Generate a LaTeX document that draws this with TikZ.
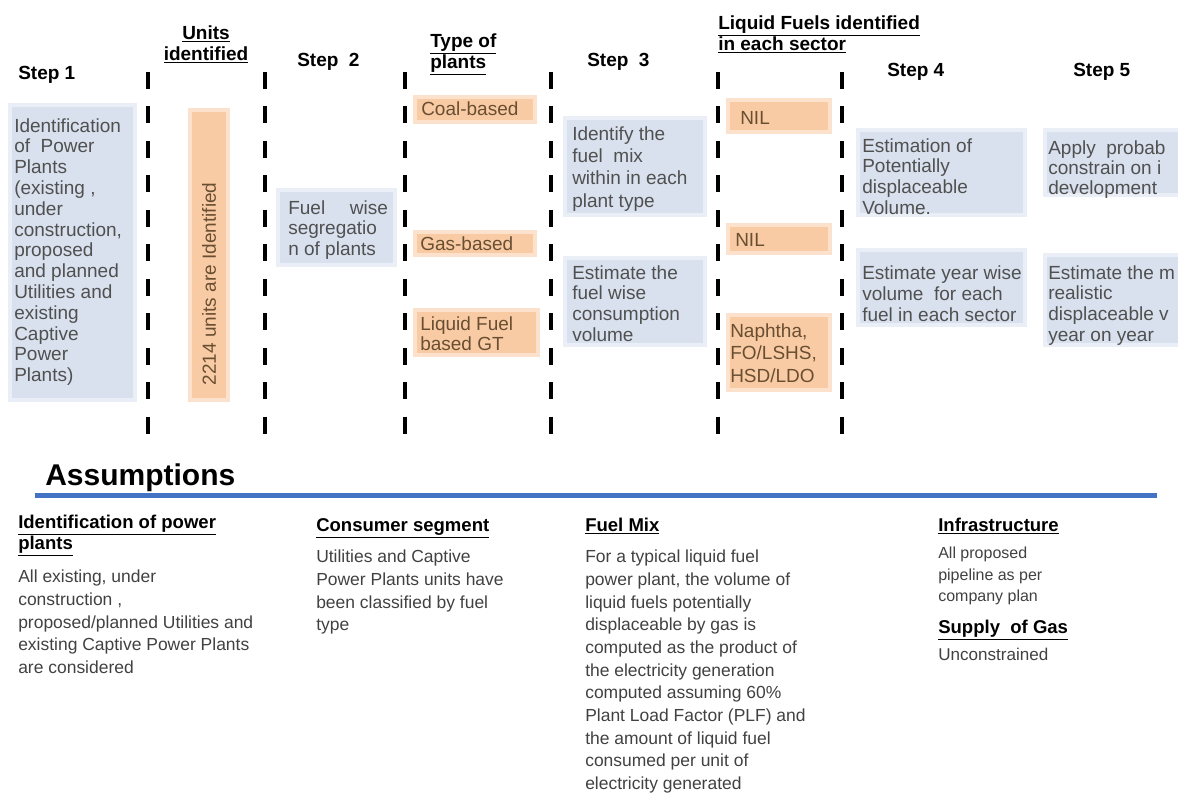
\documentclass[tikz,border=0pt]{standalone}
\usepackage{fontspec}
\setmainfont{Liberation Sans}
\usepackage{xcolor}
\usepackage{tikz}
\usetikzlibrary{positioning, fit}

\definecolor{boxblue}{RGB}{217,225,238}
\definecolor{boxorange}{RGB}{249,203,164}
\definecolor{rulebl}{RGB}{68,114,196}
\definecolor{bluetext}{RGB}{80,80,80}
\definecolor{orangetext}{RGB}{105,78,50}
\definecolor{bodytext}{RGB}{65,65,65}

\newcommand{\boxfont}{\fontsize{14.25}{15.5}\selectfont}
\newcommand{\headfont}{\fontsize{14.25}{16}\selectfont\bfseries}
\newcommand{\asmheadfont}{\fontsize{13.9}{15.75}\selectfont\bfseries}
\newcommand{\asmfont}{\fontsize{13.1}{17}\selectfont}

\tikzstyle{bluebox} = [rectangle, fill=boxblue, draw=boxblue!55, line width=2.5pt, inner sep=0pt]
\tikzstyle{orangebox} = [rectangle, fill=boxorange, draw=boxorange!55, line width=2.5pt, inner sep=0pt]
\tikzstyle{boxtext} = [anchor=north west, inner sep=0pt, align=left, text=bluetext, font=\boxfont]
\tikzstyle{fueltext} = [anchor=north west, inner sep=0pt, align=left, text=orangetext, font=\boxfont]
\tikzstyle{stephead} = [anchor=base west, inner sep=0pt, font=\headfont]
\tikzstyle{colhead} = [anchor=north west, inner sep=0pt, align=left, font=\headfont]
\tikzstyle{divider} = [line width=3pt, dash pattern=on 12.75pt off 13.1pt]
\tikzstyle{asmhead} = [anchor=north west, inner sep=0pt, align=left, font=\asmheadfont]
\tikzstyle{asmbody} = [anchor=north west, inner sep=0pt, align=left, text=bodytext, font=\asmfont]

\begin{document}
\begin{tikzpicture}[x=0.75pt, y=-0.75pt]

  \useasboundingbox (0,0) rectangle (1178,798);

  % column headers
  \node[stephead] (step1) at (18, 80) {Step 1};
  \node[colhead, anchor=north, align=center] (unitshd) at (206, 25) {\underline{Units}\\\underline{identified}};
  \node[stephead] (step2) at (297, 67) {Step~ 2};
  \node[colhead] (typehd) at (430, 33) {\underline{Type of}\\\underline{plants}};
  \node[stephead] (step3) at (587, 67) {Step~ 3};
  \node[colhead] (liquidhd) at (718, 15) {\underline{Liquid Fuels identified}\\\underline{in each sector}};
  \node[stephead] (step4) at (887, 77) {Step 4};
  \node[stephead] (step5) at (1073, 77) {Step 5};

  \foreach \x in {148, 265, 405, 551, 718, 842}
    \draw[divider] (\x, 72) -- (\x, 434);

  % step 1 and units
  \node[bluebox, fit={(10,105) (135,400)}] (s1box) {};
  \node[boxtext, font={\fontsize{14.25}{15.6}\selectfont}] (s1txt) at (14, 118) {Identification\\of~ Power\\Plants\\(existing ,\\under\\construction,\\proposed\\and planned\\Utilities and\\existing\\Captive\\Power\\Plants)};
  \node[orangebox, fit={(190,110) (228,400)}] (unitsbar) {};
  \node[rotate=90, inner sep=0pt, font=\boxfont, text=orangetext] (unitstxt) at (209, 284) {2214 units are Identified};

  % step 2
  \node[bluebox, fit={(278,190) (395,265)}] (s2box) {};
  \node[boxtext] (s2txt) at (288, 200) {Fuel\hspace{1.3em}wise\\segregatio\\n of plants};

  % type of plants
  \node[orangebox, fit={(415,97) (535,122)}] (coalbox) {};
  \node[fueltext, anchor=west] (coaltxt) at (421, 109) {Coal-based};
  \node[orangebox, fit={(415,232) (535,255)}] (gasbox) {};
  \node[fueltext, anchor=west] (gastxt) at (420, 244) {Gas-based};
  \node[orangebox, fit={(415,310) (538,355)}] (gtbox) {};
  \node[fueltext] (gttxt) at (420, 316) {Liquid Fuel\\based GT};

  % step 3
  \node[bluebox, fit={(565,118) (705,215)}] (s3abox) {};
  \node[boxtext, font={\fontsize{14.25}{16.8}\selectfont}] (s3atxt) at (572, 126) {Identify the\\fuel~ mix\\within in each\\plant type};
  \node[bluebox, fit={(565,258) (705,345)}] (s3bbox) {};
  \node[boxtext] (s3btxt) at (572, 265) {Estimate the\\fuel wise\\consumption\\volume};

  % liquid fuels per sector
  \node[orangebox, fit={(728,100) (830,132)}] (nilabox) {};
  \node[fueltext, anchor=west] (nilatxt) at (740, 118) {NIL};
  \node[orangebox, fit={(728,225) (830,253)}] (nilbbox) {};
  \node[fueltext, anchor=west] (nilbtxt) at (735, 240) {NIL};
  \node[orangebox, fit={(728,315) (830,390)}] (naphbox) {};
  \node[fueltext, font={\fontsize{14.25}{17.2}\selectfont}] (naphtxt) at (730, 323) {Naphtha,\\FO/LSHS,\\HSD/LDO};

  % step 4
  \node[bluebox, fit={(858,130) (1025,215)}] (s4abox) {};
  \node[boxtext] (s4atxt) at (862, 138) {Estimation of\\Potentially\\displaceable\\Volume.};
  \node[bluebox, fit={(858,250) (1025,325)}] (s4bbox) {};
  \node[boxtext, font={\fontsize{14.25}{15.8}\selectfont}] (s4btxt) at (862, 265) {Estimate year wise\\volume~ for each\\fuel in each sector};

  % step 5
  \node[bluebox, fit={(1045,130) (1185,195)}] (s5abox) {};
  \node[boxtext, font={\fontsize{14.25}{15}\selectfont}] (s5atxt) at (1048, 140) {Apply~ probab\\constrain on i\\development};
  \node[bluebox, fit={(1045,255) (1185,345)}] (s5bbox) {};
  \node[boxtext] (s5btxt) at (1048, 265) {Estimate the m\\realistic\\displaceable v\\year on year};

  % assumptions
  \node[anchor=base west, inner sep=0pt, font=\fontsize{22.5}{24}\selectfont\bfseries] (asmtitle) at (45, 485) {Assumptions};
  \coordinate (rulestart) at (35, 495);
  \coordinate (ruleend) at (1157, 495);
  \draw[rulebl, line width=3.75pt] (rulestart) -- (ruleend);

  \node[asmhead] (idhd) at (18, 515) {\underline{Identification of power}\\\underline{plants}};
  \node[asmbody] (idtxt) at (18, 570) {All existing, under\\construction ,\\proposed/planned Utilities and\\existing Captive Power Plants\\are considered};

  \node[asmhead] (conshd) at (316, 518) {\underline{Consumer segment}};
  \node[asmbody] (constxt) at (316, 550) {Utilities and Captive\\Power Plants units have\\been classified by fuel\\type};

  \node[asmhead] (mixhd) at (585, 518) {\underline{Fuel Mix}};
  \node[asmbody] (mixtxt) at (585, 550) {For a typical liquid fuel\\power plant, the volume of\\liquid fuels potentially\\displaceable by gas is\\computed as the product of\\the electricity generation\\computed assuming 60\%\\Plant Load Factor (PLF) and\\the amount of liquid fuel\\consumed per unit of\\electricity generated};

  \node[asmhead] (infrahd) at (938, 518) {\underline{Infrastructure}};
  \node[asmbody, font={\fontsize{12}{16.1}\selectfont}] (infratxt) at (938, 547) {All proposed\\pipeline as per\\company plan};
  \node[asmhead] (supplyhd) at (938, 620) {\underline{Supply~ of Gas}};
  \node[asmbody, anchor=west, font={\fontsize{12.8}{16}\selectfont}] (supplytxt) at (938, 654) {Unconstrained};

\end{tikzpicture}
\end{document}
